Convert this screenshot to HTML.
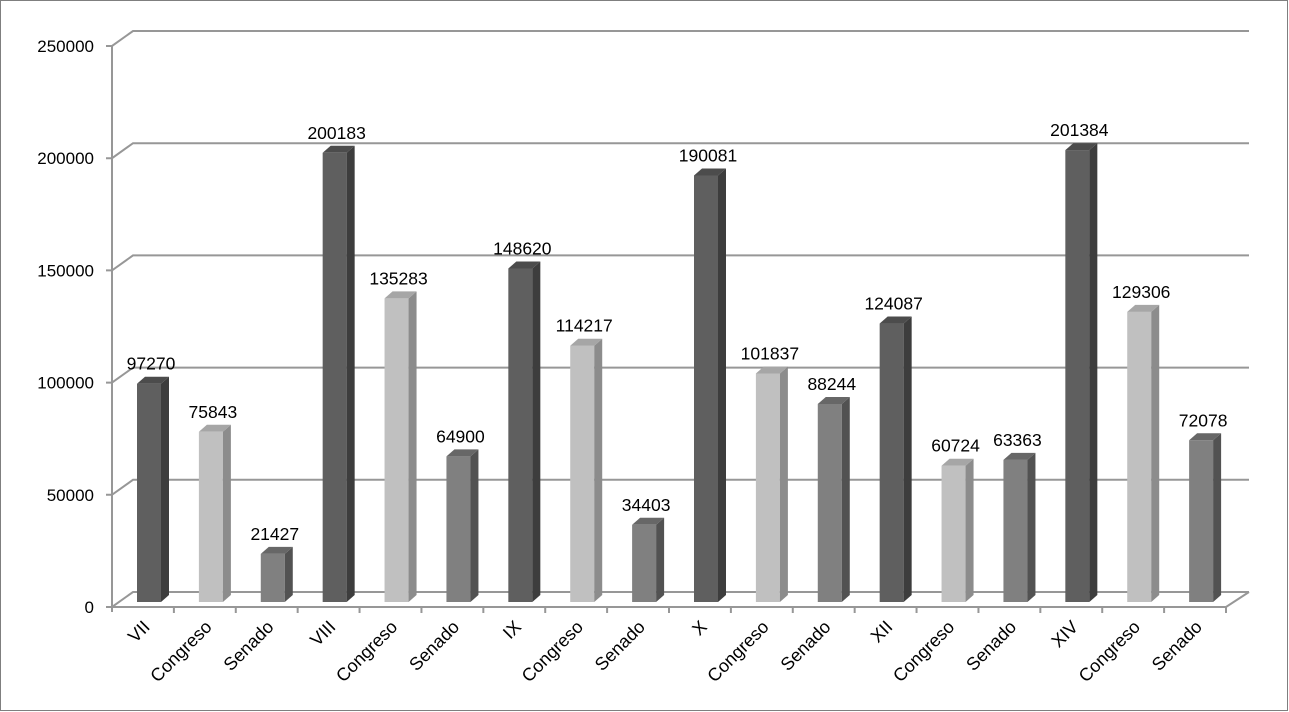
<!DOCTYPE html>
<html><head><meta charset="utf-8"><style>html,body{margin:0;padding:0;background:#fff}svg{display:block}text{font-family:"Liberation Sans",sans-serif}</style></head>
<body>
<svg width="1289" height="712" xmlns="http://www.w3.org/2000/svg">
<rect x="0.5" y="0.5" width="1287" height="710" fill="#fff" stroke="#7f7f7f"/>
<g id="grid" stroke="#979797" stroke-width="2" fill="none"></g>
<g id="bars"></g>
<g id="txt" fill="#000"></g>
<script>
(function(){
var ns="http://www.w3.org/2000/svg";
function el(p,t,a,txt){var e=document.createElementNS(ns,t);for(var k in a)e.setAttribute(k,a[k]);if(txt!=null)e.textContent=txt;p.appendChild(e);return e;}
var g=document.getElementById('grid'),b=document.getElementById('bars'),t=document.getElementById('txt');
var s=561/250000;
for(var i=0;i<=5;i++){var yf=607-i*50000*s;
 el(g,'polyline',{points:'106,'+yf+' 112,'+yf+' 133,'+(yf-15)+' 1249,'+(yf-15)});
 el(t,'text',{x:94,y:yf+6,'text-anchor':'end',style:'font-size:17px'},String(i*50000));}
el(g,'line',{x1:112,y1:46,x2:112,y2:612});
el(g,'polyline',{points:'112,607 1226,607 1249,592'});
var cats=['VII','Congreso','Senado','VIII','Congreso','Senado','IX','Congreso','Senado','X','Congreso','Senado','XII','Congreso','Senado','XIV','Congreso','Senado'];
var vals=[97270,75843,21427,200183,135283,64900,148620,114217,34403,190081,101837,88244,124087,60724,63363,201384,129306,72078];
var cols=[['#5f5f5f','#3d3d3d','#4c4c4c'],['#c0c0c0','#8c8c8c','#a6a6a6'],['#808080','#525252','#676767']];
var step=1114/18;
for(var i=0;i<18;i++){
 var tx=112+step*(i+1);el(g,'line',{x1:tx,y1:607,x2:tx,y2:613});
 var x=137+step*i,yt=602-vals[i]*s,c=cols[i%3];
 el(b,'rect',{x:x,y:yt,width:24,height:602-yt,fill:c[0]});
 el(b,'polygon',{points:(x+24)+','+yt+' '+(x+32)+','+(yt-7)+' '+(x+32)+','+595+' '+(x+24)+','+602,fill:c[1]});
 el(b,'polygon',{points:x+','+yt+' '+(x+8)+','+(yt-7)+' '+(x+32)+','+(yt-7)+' '+(x+24)+','+yt,fill:c[2]});
 el(t,'text',{x:x+14,y:yt-14,'text-anchor':'middle',style:'font-size:17.5px'},String(vals[i]));
 var cx=112+step*(i+0.5)+8;
 el(t,'text',{x:cx,y:628,'text-anchor':'end',style:'font-size:18px',transform:'rotate(-45 '+cx+' 628)'},cats[i]);
}
})();
</script>
</svg>
</body></html>
